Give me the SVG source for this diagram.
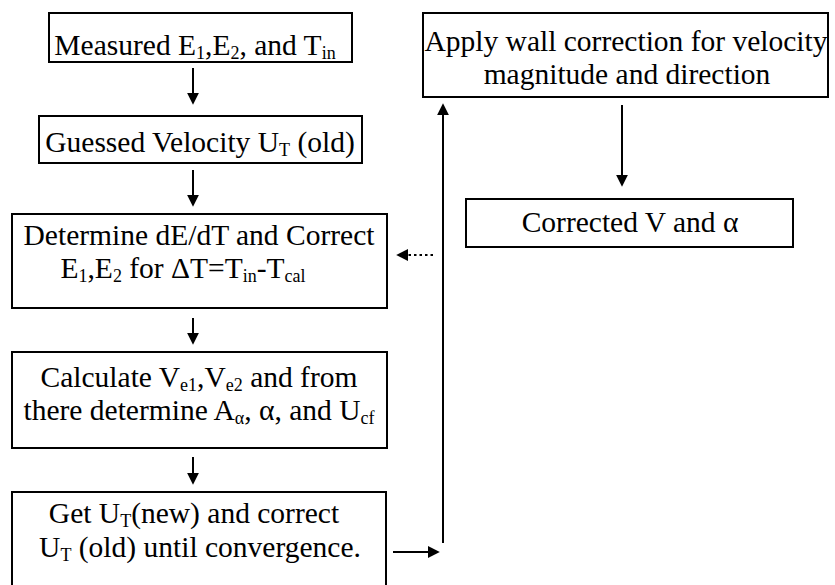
<svg xmlns="http://www.w3.org/2000/svg" width="835" height="585" viewBox="0 0 835 585">
<style>
.box{fill:#fff;stroke:#000;stroke-width:2}
text{font-family:"Liberation Serif","Times New Roman",serif;font-size:29.5px;fill:#000;text-anchor:middle}
.s{font-size:18px}
.c{stroke:#000;stroke-width:2;fill:none}
.d{stroke-dasharray:2.5 3}
</style>
<defs>
<marker id="ah" viewBox="0 0 10 10" refX="6" refY="5" markerWidth="12" markerHeight="12" markerUnits="userSpaceOnUse" orient="auto">
<path d="M0,0 L10,5 L0,10 z" fill="#000"/>
</marker>
</defs>
<rect width="835" height="585" fill="#fff"/>
<g id="connectors">
<line class="c" x1="193" y1="68" x2="193" y2="100" marker-end="url(#ah)"/>
<line class="c" x1="193" y1="170" x2="193" y2="202" marker-end="url(#ah)"/>
<line class="c" x1="193" y1="318" x2="193" y2="340" marker-end="url(#ah)"/>
<line class="c" x1="193" y1="457" x2="193" y2="480" marker-end="url(#ah)"/>
<line class="c" x1="393" y1="552" x2="435" y2="552" marker-end="url(#ah)"/>
<line class="c" x1="443" y1="543" x2="443" y2="108" marker-end="url(#ah)"/>
<line class="c" x1="622" y1="105" x2="622" y2="182" marker-end="url(#ah)"/>
<line class="c d" x1="433" y1="255" x2="401" y2="255" marker-end="url(#ah)"/>
</g>
<g id="measured">
<rect class="box" x="49" y="13" width="303" height="49"/>
<text x="195" y="55">Measured E<tspan class="s" dy="4">1</tspan><tspan dy="-4">,E</tspan><tspan class="s" dy="4">2</tspan><tspan dy="-4">, and T</tspan><tspan class="s" dy="4">in</tspan></text>
</g>
<g id="guessed">
<rect class="box" x="39" y="116" width="323" height="47"/>
<text x="200" y="152">Guessed Velocity U<tspan class="s" dy="4">T</tspan><tspan dy="-4"> (old)</tspan></text>
</g>
<g id="determine">
<rect class="box" x="12" y="214" width="375" height="94"/>
<text x="199" y="245">Determine dE/dT and Correct</text>
<text x="183" y="278">E<tspan class="s" dy="4">1</tspan><tspan dy="-4">,E</tspan><tspan class="s" dy="4">2</tspan><tspan dy="-4"> for ΔT=T</tspan><tspan class="s" dy="4">in</tspan><tspan dy="-4">-T</tspan><tspan class="s" dy="4">cal</tspan></text>
</g>
<g id="calculate">
<rect class="box" x="12" y="352" width="375" height="96"/>
<text x="199" y="387">Calculate V<tspan class="s" dy="4">e1</tspan><tspan dy="-4">,V</tspan><tspan class="s" dy="4">e2</tspan><tspan dy="-4"> and from</tspan></text>
<text x="199" y="420">there determine A<tspan class="s" dy="4">α</tspan><tspan dy="-4">, α, and U</tspan><tspan class="s" dy="4">cf</tspan></text>
</g>
<g id="getut">
<rect class="box" x="12" y="492" width="374" height="100"/>
<text x="194" y="523">Get U<tspan class="s" dy="4">T</tspan><tspan dy="-4">(new) and correct</tspan></text>
<text x="200" y="557">U<tspan class="s" dy="4">T</tspan><tspan dy="-4"> (old) until convergence.</tspan></text>
</g>
<g id="wall">
<rect class="box" x="423" y="13" width="405" height="84"/>
<text x="626" y="51">Apply wall correction for velocity</text>
<text x="627" y="84">magnitude and direction</text>
</g>
<g id="corrected">
<rect class="box" x="466" y="199" width="327" height="48"/>
<text x="630" y="232">Corrected V and α</text>
</g>
</svg>
